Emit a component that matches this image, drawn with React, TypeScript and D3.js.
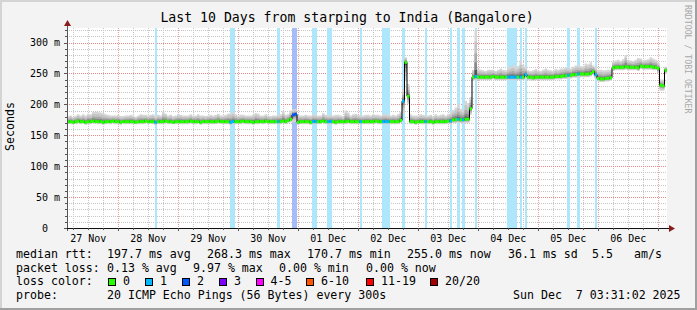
import React from 'react';
import * as d3 from 'd3';

// ---------- data ----------
const startTime = new Date(2025, 10, 27, 3, 31, 2);
const endTime = new Date(2025, 11, 7, 3, 31, 2);

// hourly median rtt (ms), 240 hours
const medianRtt: number[] = [
  172,172,171,172,173,172,172,171,172,172,173,172,172,172,171,172,172,172,173,172,172,171,172,172,
  172,172,172,171,172,172,172,173,172,172,172,171,172,172,172,173,172,172,171,172,172,172,172,172,
  172,173,172,172,172,171,172,172,172,172,172,172,173,172,172,172,172,171,172,172,172,172,173,172,
  172,172,171,172,172,172,172,173,172,172,172,172,172,172,173,172,174,176,183,184,171,172,172,172,
  172,171,172,172,172,172,173,172,172,172,172,171,172,172,172,172,173,172,172,172,172,172,172,172,
  172,172,172,173,172,172,172,172,172,172,172,172,172,174,205,268,213,172,172,171,172,172,172,172,
  172,172,171,172,172,172,172,172,173,173,175,175,176,175,175,176,176,193,244,245,244,244,244,244,
  244,244,245,244,244,244,244,244,244,244,244,244,244,244,244,248,244,244,243,244,244,244,244,244,
  244,244,244,245,245,245,246,246,247,247,248,248,249,249,249,249,249,250,253,248,242,241,241,242,
  242,243,259,260,260,260,260,261,260,260,260,260,259,262,261,261,261,261,260,260,258,231,230,255,
];

// smoke spread above the median (ms)
const smokeUp: number[] = [
  9,10,9,10,11,10,12,11,13,12,15,16,16,15,15,12,11,10,9,10,11,10,9,10,
  10,11,10,9,10,12,11,10,10,11,12,10,11,10,16,12,10,11,10,10,12,11,10,10,
  10,11,10,10,12,11,10,9,10,11,10,11,12,10,10,11,13,15,16,12,10,11,10,10,
  10,10,12,14,13,10,10,11,10,9,10,10,11,12,16,11,10,14,9,8,12,10,10,11,
  10,11,12,11,10,10,13,11,10,11,10,12,11,10,9,18,14,10,12,13,11,10,10,11,
  11,10,12,10,11,10,12,13,11,10,11,10,12,14,20,8,20,12,10,11,10,12,11,10,
  10,11,10,12,10,11,12,10,11,14,16,20,24,18,16,30,26,19,12,75,14,12,11,10,
  12,12,11,10,12,14,12,11,15,18,20,16,18,27,20,12,11,10,12,13,11,10,12,14,
  12,11,10,12,11,13,12,14,12,11,13,15,14,13,12,17,16,18,10,12,14,15,14,13,
  14,13,10,11,12,10,13,19,12,11,10,12,16,12,10,11,12,15,14,12,10,9,10,6,
];

// smoke spread below the median (ms)
const smokeDown: number[] = [
  4,4,3,4,4,4,3,4,4,4,4,3,4,4,4,4,3,4,4,4,4,4,3,4,
  4,4,4,3,4,4,4,4,4,3,4,5,4,4,4,4,4,4,3,4,4,4,4,4,
  4,4,4,4,3,4,4,4,4,4,4,4,4,3,4,4,4,5,4,4,4,4,4,4,
  4,4,4,4,4,3,4,4,4,4,4,4,4,4,4,4,4,5,12,12,4,4,4,4,
  4,4,4,4,4,4,3,4,4,4,4,4,4,4,4,4,4,4,4,4,4,4,4,4,
  4,4,4,4,4,4,4,4,4,4,4,4,4,4,20,30,12,4,4,4,4,4,4,4,
  4,4,4,4,4,4,4,4,4,5,5,5,6,5,5,6,6,10,6,6,5,5,5,5,
  5,5,5,5,5,5,5,5,5,5,5,5,5,5,5,6,5,5,5,5,5,5,5,5,
  5,5,5,5,5,5,5,5,5,5,5,5,5,5,5,5,5,5,6,6,5,5,5,5,
  5,5,5,5,5,5,5,5,5,5,5,5,5,5,5,5,5,5,5,5,8,9,8,5,
];

// [hour index, lost pings of 20]
const lossEvents: [number, number][] = [
  [35,1],[65,1],[66,1],[84,1],[90,2],[91,2],[98,1],[99,1],[104,1],[105,1],
  [117,1],[126,1],[127,1],[128,1],[134,1],[143,1],[153,1],[156,1],[158,1],
  [163,1],[176,1],[177,1],[178,1],[179,1],[181,1],[183,1],[200,1],[204,1],[211,1],
];

const yTickValues = [0, 50, 100, 150, 200, 250, 300];
const yTickLabels = ['0\u00a0\u00a0', '50 m', '100 m', '150 m', '200 m', '250 m', '300 m'];
const dayLabels = ['27 Nov', '28 Nov', '29 Nov', '30 Nov', '01 Dec', '02 Dec', '03 Dec', '04 Dec', '05 Dec', '06 Dec'];
const titleText = 'Last 10 Days from starping to India (Bangalore)';
const rttStats = ['median rtt:', '197.7 ms avg', '268.3 ms max', '170.7 ms min', '255.0 ms now', '36.1 ms sd', '5.5', 'am/s'];
const lossStats = ['packet loss:', '0.13 % avg', '9.97 % max', '0.00 % min', '0.00 % now'];
const lossLabels = ['0', '1', '2', '3', '4-5', '6-10', '11-19', '20/20'];
const probeText = ['probe:', '20 ICMP Echo Pings (56 Bytes) every 300s', 'Sun Dec\u00a0\u00a07 03:31:02 2025'];

// ---------- styles ----------
const lossColors = ['#26ff00', '#00b8ff', '#0059ff', '#7e00ff', '#ff00ff', '#ff5500', '#ff0000', '#a10000'];
const bandColors: Record<number, string> = { 1: '#aee6fb', 2: '#a6bcf8' };
const smokeLayers = [
  { f: 1.0, c: '#d6d6d6' },
  { f: 0.75, c: '#c4c4c4' },
  { f: 0.5, c: '#aaaaaa' },
  { f: 0.3, c: '#888888' },
  { f: 0.14, c: '#555555' },
];
const FONT = 'DejaVu Sans Mono, monospace';

export default function App() {
  const W = 697, H = 310;
  const left = 67, right = 667, top = 28, bottom = 228;
  const x = d3.scaleTime().domain([startTime, endTime]).range([left, right]);
  const y = d3.scaleLinear().domain([0, 323.5]).range([bottom, top]);
  const hourMs = 3600e3;

  const pts = medianRtt.map((m, i) => ({
    t: new Date(+startTime + i * hourMs),
    t2: new Date(Math.min(+startTime + (i + 1) * hourMs, +endTime)),
    m, up: smokeUp[i], dn: smokeDown[i], i,
  }));
  const ext = [...pts, { ...pts[pts.length - 1], t: endTime }];
  const lossMap = new Map(lossEvents);

  const lineGen = d3.line<any>().x(d => x(d.t)).y(d => y(d.m)).curve(d3.curveStepAfter);

  const minorY = d3.range(10, 321, 10).filter(v => v % 50 !== 0);
  const majorY = yTickValues.slice(1);
  const minorX = d3.timeHour.every(6)!.range(startTime, endTime).filter(d => d.getHours() !== 0);
  const majorX = d3.timeDay.range(startTime, endTime);
  const noonX = dayLabels.map((_, i) => new Date(2025, 10, 27 + i, 12));

  const rttX = [16, 107, 207, 307, 407, 508, 592, 634];
  const lossX = [16, 107, 193, 279, 366];
  const swX = [108.5, 145.5, 182.5, 219.5, 256, 306.5, 366.5, 430.5];
  const probeX = [16, 107, 513];

  const cr = (v: number) => Math.round(v) + 0.5;

  return (
    <svg width={W} height={H} style={{ position: 'absolute', left: 0, top: 0 }} fontFamily={FONT}>
      <rect x={0} y={0} width={W} height={H} fill="#f3f3f3" />
      <rect x={0} y={0} width={W} height={2} fill="#d4d4d4" />
      <rect x={0} y={0} width={2} height={H} fill="#d4d4d4" />
      <rect x={0} y={H - 2} width={W} height={2} fill="#a0a0a0" />
      <rect x={W - 2} y={0} width={2} height={H} fill="#a0a0a0" />

      {/* plot background */}
      <rect x={left} y={top} width={right - left} height={bottom - top} fill="#ffffff" />

      {/* grid */}
      <g shapeRendering="crispEdges" strokeDasharray="1,1" strokeWidth={1}>
        {minorY.map(v => (
          <line key={'my' + v} x1={left} x2={right} y1={cr(y(v))} y2={cr(y(v))} stroke="#c6c6c6" />
        ))}
        {minorX.map(d => (
          <line key={'mx' + +d} x1={cr(x(d))} x2={cr(x(d))} y1={top} y2={bottom} stroke="#c6c6c6" />
        ))}
        {majorY.map(v => (
          <line key={'My' + v} x1={left} x2={right} y1={cr(y(v))} y2={cr(y(v))} stroke="#e68a8a" />
        ))}
        {majorX.map(d => (
          <line key={'Mx' + +d} x1={cr(x(d))} x2={cr(x(d))} y1={top} y2={bottom} stroke="#eaa0a0" />
        ))}
      </g>

      {/* loss bands */}
      <g shapeRendering="crispEdges">
        {pts.filter(p => lossMap.has(p.i)).map(p => (
          <rect key={'b' + p.i} x={x(p.t)} y={top} width={x(p.t2) - x(p.t)} height={bottom - top}
            fill={bandColors[lossMap.get(p.i)!]} />
        ))}
      </g>

      {/* smoke */}
      {smokeLayers.map((L, k) => {
        const a = d3.area<any>().x(d => x(d.t)).y0(d => y(d.m - L.f * d.dn)).y1(d => y(d.m + L.f * d.up)).curve(d3.curveStepAfter);
        return <path key={'s' + k} d={a(ext) || ''} fill={L.c} />;
      })}

      {/* median line */}
      <path d={lineGen(ext) || ''} fill="none" stroke="#000" strokeWidth={1} />
      {pts.map(p => (
        <line key={'m' + p.i} x1={x(p.t)} x2={x(p.t2)} y1={y(p.m)} y2={y(p.m)}
          stroke={lossColors[lossMap.get(p.i) || 0]} strokeWidth={3} />
      ))}

      {/* axes */}
      <g shapeRendering="crispEdges">
        <line x1={left + 0.5} x2={left + 0.5} y1={bottom + 3} y2={24} stroke="#555" />
        <line x1={left - 3} x2={671} y1={bottom + 0.5} y2={bottom + 0.5} stroke="#111" />
        {minorY.map(v => (
          <line key={'ty' + v} x1={left - 2} x2={left} y1={cr(y(v))} y2={cr(y(v))} stroke="#555" />
        ))}
        {yTickValues.map(v => (
          <line key={'Ty' + v} x1={left - 3} x2={left} y1={cr(y(v))} y2={cr(y(v))} stroke="#555" />
        ))}
        {minorX.map(d => (
          <line key={'tx' + +d} x1={cr(x(d))} x2={cr(x(d))} y1={bottom} y2={bottom + 2} stroke="#555" />
        ))}
        {majorX.map(d => (
          <line key={'Tx' + +d} x1={cr(x(d))} x2={cr(x(d))} y1={bottom} y2={bottom + 3} stroke="#555" />
        ))}
      </g>
      <path d={`M${left + 0.5 - 3.5},${26} L${left + 0.5 + 3.5},${26} L${left + 0.5},${20} Z`} fill="#8b1c1c" />
      <path d={`M${669},${bottom + 0.5 - 3.5} L${669},${bottom + 0.5 + 3.5} L${675},${bottom + 0.5} Z`} fill="#8b1c1c" />

      {/* y tick labels */}
      {yTickValues.map((v, i) => (
        <text key={'yl' + v} x={60} y={y(v) + 3.6} fontSize={10} textAnchor="end" fill="#000">{yTickLabels[i]}</text>
      ))}
      {/* x labels */}
      {dayLabels.map((s, i) => (
        <text key={'xl' + i} x={x(noonX[i])} y={241.5} fontSize={10} textAnchor="middle" fill="#000">{s}</text>
      ))}

      {/* title & labels */}
      <text x={347} y={21.5} fontSize={13.2} textAnchor="middle" fill="#000">{titleText}</text>
      <text transform="translate(13.5,126.5) rotate(-90)" fontSize={11.6} textAnchor="middle" fill="#000">Seconds</text>
      <text transform="translate(684.5,5) rotate(90)" fontSize={8.2} fill="#a8a8a8">RRDTOOL / TOBI OETIKER</text>

      {/* legend */}
      <g fontSize={11.6} fill="#000" style={{ whiteSpace: 'pre' }}>
        {rttStats.map((s, i) => <text key={'r' + i} x={rttX[i]} y={257.8}>{s}</text>)}
        {lossStats.map((s, i) => <text key={'l' + i} x={lossX[i]} y={271.6}>{s}</text>)}
        <text x={16} y={285.4}>loss color:</text>
        {lossLabels.map((s, i) => (
          <g key={'sw' + i}>
            <rect x={swX[i]} y={278.5} width={7} height={7} fill={lossColors[i]} stroke="#000" strokeWidth={1} shapeRendering="crispEdges" />
            <text x={swX[i] + 14.5} y={285.4}>{s}</text>
          </g>
        ))}
        {probeText.map((s, i) => <text key={'p' + i} x={probeX[i]} y={299.2}>{s}</text>)}
      </g>
    </svg>
  );
}
